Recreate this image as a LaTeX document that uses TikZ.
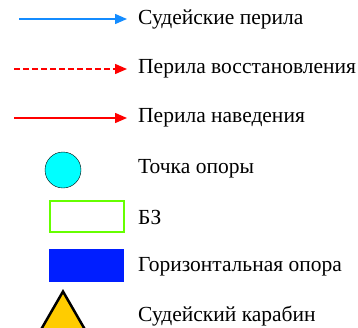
\documentclass[tikz,border=0pt]{standalone}
\usepackage{fontspec}
\setmainfont{Liberation Serif}
\newfontfamily\legendfont{Liberation Serif}
\usetikzlibrary{arrows.meta, shapes.geometric}

\definecolor{ropeblue}{RGB}{20,140,255}
\definecolor{ropered}{RGB}{255,0,0}
\definecolor{pointcyan}{RGB}{0,255,255}
\definecolor{bzgreen}{RGB}{102,255,0}
\definecolor{supportblue}{RGB}{0,30,255}
\definecolor{carabgold}{RGB}{255,204,0}

\tikzset{
    legendtext/.style={anchor=west, inner sep=0pt, font=\legendfont\fontsize{21.5}{21.5}\selectfont},
    rope/.style={line width=1.5pt, -{Triangle[length=12pt, width=10pt]}},
    judgerope/.style={rope, ropeblue},
    restorerope/.style={rope, ropered, dash pattern=on 6pt off 3pt},
    leadrope/.style={rope, ropered}
}

\begin{document}
\begin{tikzpicture}[x=1pt, y=-1pt]
        \useasboundingbox (0,0) rectangle (358,327);

        % ropes
        \foreach \i/\x/\y/\ropestyle/\text in {1/19/19/judgerope/Судейские перила, 2/14/69/restorerope/Перила восстановления, 3/14/118/leadrope/Перила наведения} {
            \coordinate (s\i) at (\x,\y);
            \coordinate (e\i) at (127,\y);
            \draw[\ropestyle] (s\i) -- (e\i);
            \node[legendtext] (t\i) at (138,\y) {\text};
        }

        % symbols
        \node[circle, draw, fill=pointcyan, minimum size=36pt, inner sep=0pt] (point) at (63,170) {};
        \node[draw=bzgreen, line width=2pt, minimum width=74pt, minimum height=31pt, inner sep=0pt] (bz) at (86.5,216.5) {};
        \node[fill=supportblue, minimum width=75pt, minimum height=33pt, inner sep=0pt] (support) at (86.5,265.5) {};
        \node[regular polygon, regular polygon sides=3, draw, line width=2.5pt, fill=carabgold, minimum size=52pt, inner sep=0pt, anchor=north] (carab) at (63,289) {};

        \node[legendtext] (t4) at (138,169) {Точка опоры};
        \node[legendtext] (t5) at (138,217) {БЗ};
        \node[legendtext] (t6) at (138,267) {Горизонтальная опора};
        \node[legendtext] (t7) at (138,316) {Судейский карабин};
\end{tikzpicture}
\end{document}
